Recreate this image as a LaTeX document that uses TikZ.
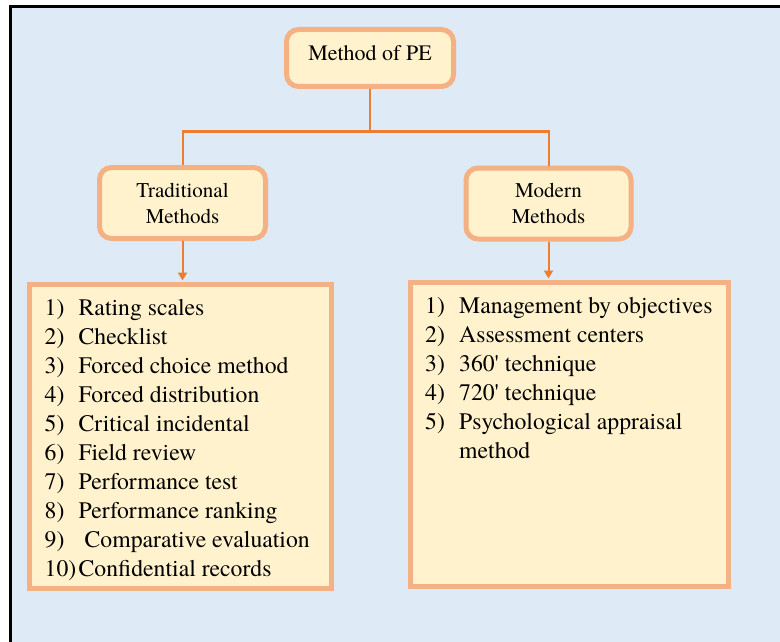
\documentclass[tikz,border=0pt]{standalone}
\usepackage{fontspec}
\setmainfont{texgyretermes}[Extension=.otf, UprightFont=*-regular, BoldFont=*-bold]
\usetikzlibrary{arrows.meta,positioning}
\definecolor{pagebg}{HTML}{DEEAF6}
\definecolor{boxfill}{HTML}{FFF2CC}
\definecolor{boxline}{HTML}{F4B183}
\definecolor{linkline}{HTML}{ED7D31}
\tikzset{
  headbox/.style={draw=boxline, fill=boxfill, line width=5pt, rounded corners=12pt, align=center, inner sep=0pt},
  listbox/.style={draw=boxline, fill=boxfill, line width=5pt, inner sep=0pt},
  item/.style={anchor=base west, inner sep=0pt, font=\fontsize{23.7}{29}\selectfont},
  link/.style={draw=linkline, line width=2pt},
}

\begin{document}
\begin{tikzpicture}[x=1pt,y=-1pt]
    \useasboundingbox (0,0) rectangle (780,642);
    % Page
    \fill[pagebg] (10,7) rectangle (780,642);
    \draw[line width=3pt, line cap=rect] (10,642) -- (10,7) -- (780,7);

    % Head boxes
    \node[headbox, minimum width=167, minimum height=57, text depth=10pt,
          font=\fontsize{22}{26}\selectfont] (pe) at (370,58) {Method of PE};
    \node[headbox, minimum width=166, minimum height=71,
          font=\fontsize{21}{26}\selectfont] (trad) at (182.5,203) {Traditional\\Methods};
    \node[headbox, minimum width=165, minimum height=71,
          font=\fontsize{21}{26}\selectfont] (mod) at (548.5,203.5) {Modern\\Methods};

    % List boxes
    \node[listbox, minimum width=302, minimum height=304] (tradlist) at (180.5,436.5) {};
    \node[listbox, minimum width=318, minimum height=304] (modlist) at (569.5,434.5) {};

    % Connectors
    \draw[link] (pe.south) -- ++(0,42.5) coordinate (split);
    \draw[link] (split) -| (trad.north);
    \draw[link] (split) -| (mod.north);
    \draw[link, -{Triangle[length=8pt,width=9pt]}, shorten >=1.5pt] (trad.south) -- (trad.south |- tradlist.north);
    \draw[link, -{Triangle[length=8pt,width=9pt]}, shorten >=1.5pt] (mod.south) -- (mod.south |- modlist.north);

    % Traditional methods
    \foreach \n/\t [count=\i] in {1)/Rating scales, 2)/Checklist, 3)/Forced choice method,
        4)/Forced distribution, 5)/Critical incidental, 6)/Field review, 7)/Performance test,
        8)/Performance ranking, 9)/\hspace{6pt}Comparative evaluation, 10)/Confidential records}
      \node[item] (tl\i) at (44.5,{315+29.1*(\i-1)}) {\makebox[34pt][l]{\n}\t};

    % Modern methods
    \foreach \n/\t [count=\i] in {1)/Management by objectives, 2)/Assessment centers,
        3)/360\textquotesingle{} technique, 4)/720\textquotesingle{} technique,
        5)/Psychological appraisal, {}/method}
      \node[item] (ml\i) at (425,{313.3+29.1*(\i-1)}) {\makebox[34pt][l]{\n}\t};
\end{tikzpicture}
\end{document}
